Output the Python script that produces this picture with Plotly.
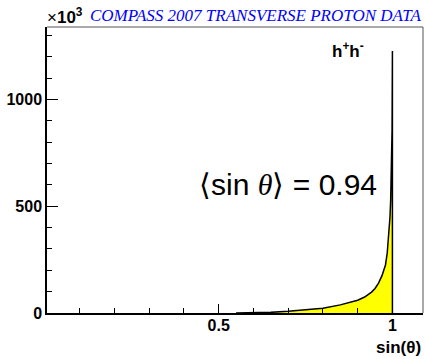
import plotly.graph_objects as go

# data (counts in units of 10^3)
sin_theta = [0.55, 0.60, 0.65, 0.70, 0.75, 0.80, 0.85, 0.88, 0.90, 0.92, 0.94,
             0.95, 0.96, 0.97, 0.98, 0.985, 0.99, 0.993, 0.995, 0.997, 0.999]
counts = [0, 1, 3, 8, 14, 22, 38, 50, 60, 75, 98,
          115, 140, 175, 225, 280, 370, 450, 530, 700, 858]
peak_x = 1.0
peak_count = 1228
x_ticks = [0.5, 1]
x_tick_labels = ["0.5", "1"]
y_ticks = [0, 500, 1000]
y_tick_labels = ["0", "500", "1000"]

fig = go.Figure()
fig.add_trace(go.Scatter(
    x=sin_theta + [peak_x], y=counts + [0],
    mode="lines", line=dict(width=0, color="#ffff00"),
    fill="tozeroy", fillcolor="#ffff00", hoverinfo="skip", showlegend=False))
fig.add_trace(go.Scatter(
    x=sin_theta + [peak_x, peak_x], y=counts + [peak_count, 0],
    mode="lines", line=dict(width=1.5, color="black"), showlegend=False))

fig.update_layout(
    width=425, height=359,
    margin=dict(l=47, r=2, t=27, b=46),
    paper_bgcolor="white", plot_bgcolor="white",
    font=dict(family="Liberation Sans", color="black"),
    xaxis=dict(range=[0.006, 1.088], tickvals=x_ticks, ticktext=x_tick_labels,
               ticks="inside", ticklen=9, tickwidth=1, tickcolor="black", automargin=False,
               ticklabelstandoff=-3,
               showgrid=False, zeroline=False, showline=True, linecolor="black", linewidth=1.5,
               tickfont=dict(family="Liberation Sans", size=16, weight="bold"),
               minor=dict(dtick=0.1, tick0=0, ticks="inside", ticklen=5, tickcolor="black", showgrid=False)),
    yaxis=dict(range=[0, 1340], tickvals=y_ticks, ticktext=y_tick_labels,
               ticks="inside", ticklen=11, tickwidth=1, tickcolor="black", automargin=False,
               showgrid=False, zeroline=False, showline=True, linecolor="black", linewidth=1.5,
               tickfont=dict(family="Liberation Sans", size=16, weight="bold"),
               minor=dict(dtick=100, tick0=0, ticks="inside", ticklen=5.5, tickcolor="black", showgrid=False)),
)

# frame top/right
fig.add_shape(type="line", xref="paper", yref="paper", x0=0, x1=1, y0=1, y1=1,
              line=dict(color="#555555", width=1))
fig.add_shape(type="line", xref="paper", yref="paper", x0=1, x1=1, y0=0, y1=1,
              line=dict(color="#555555", width=1))

fig.add_annotation(text="×<b>10<sup>3</sup></b>", xref="paper", yref="paper",
                   x=-0.006, y=1.0, xanchor="left", yanchor="bottom", showarrow=False, yshift=-2,
                   font=dict(family="Liberation Sans", size=17, color="black"))
fig.add_annotation(text="<i>COMPASS 2007 TRANSVERSE PROTON DATA</i>", xref="paper", yref="paper",
                   x=1.0, y=1.0, xanchor="right", yanchor="bottom", showarrow=False, yshift=0,
                   font=dict(family="Liberation Serif", size=17, color="#0000ff"))
fig.add_annotation(text="<b>h<sup>+</sup>h<sup>-</sup></b>", xref="paper", yref="paper",
                   x=0.80, y=0.92, xanchor="center", yanchor="middle", showarrow=False,
                   font=dict(family="Liberation Sans", size=17, color="black"))
fig.add_annotation(text="⟨sin <span style=\"font-family:'Liberation Serif'\"><i>θ</i></span>⟩ = 0.94",
                   xref="paper", yref="paper",
                   x=0.4, y=0.45, xanchor="left", yanchor="middle", showarrow=False,
                   font=dict(family="Liberation Sans", size=30, color="black"))
fig.add_annotation(text="<b>sin(θ)</b>", xref="paper", yref="paper",
                   x=1.0, y=-0.08, xanchor="right", yanchor="top", showarrow=False,
                   font=dict(family="Liberation Sans", size=17, color="black"))

fig.write_html("out.html", post_script="document.body.style.margin='0';",
               config={"displayModeBar": False})
